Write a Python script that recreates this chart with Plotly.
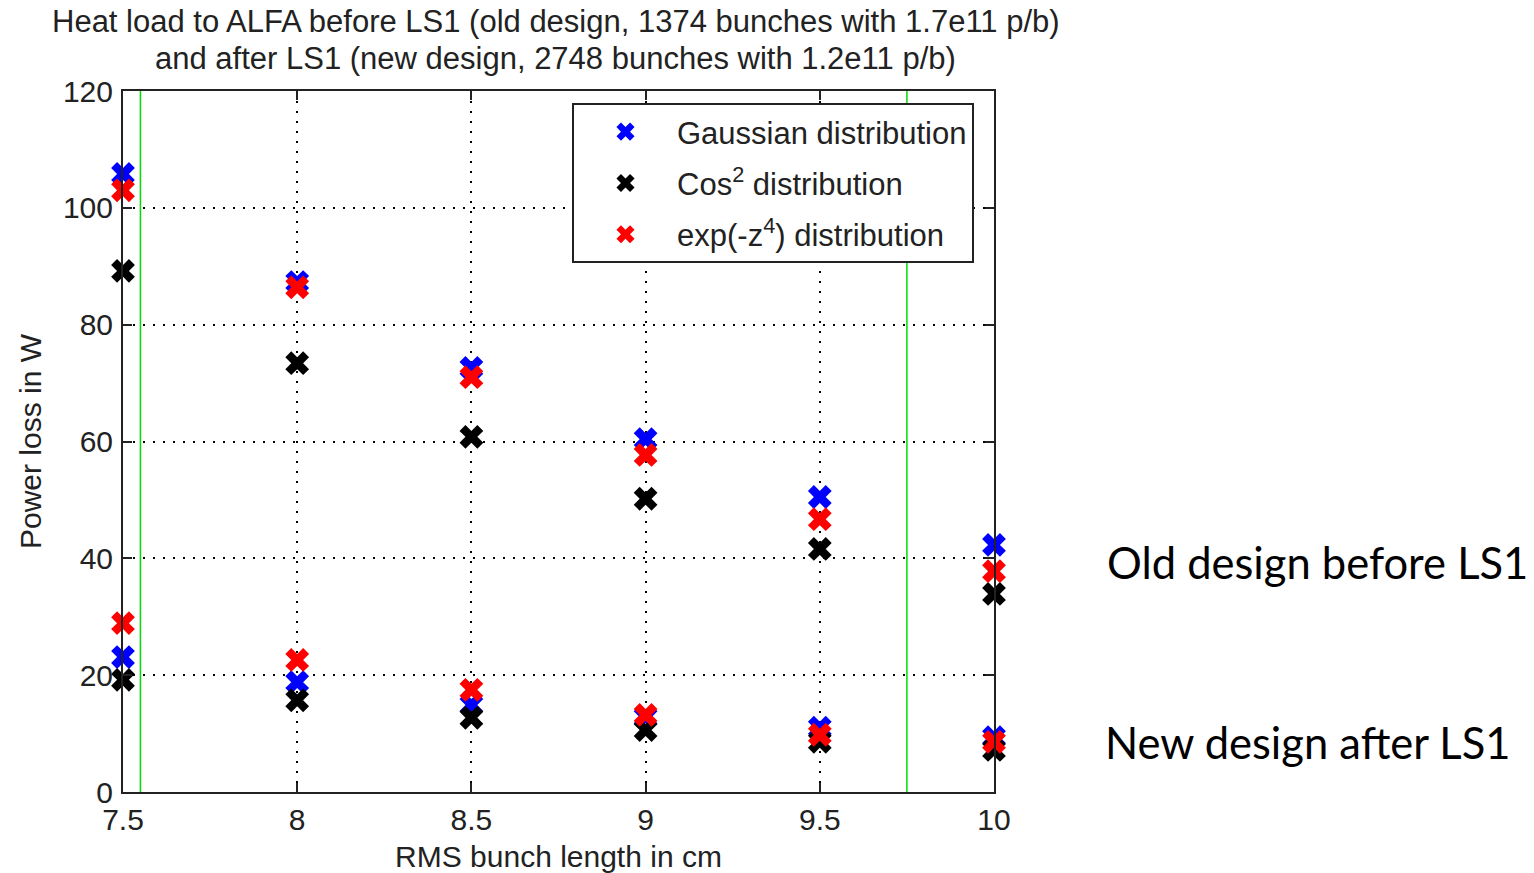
import plotly.graph_objects as go

bunch_length = [7.5, 8.0, 8.5, 9.0, 9.5, 10.0]

gauss_old = [105.8, 87.3, 72.6, 60.4, 50.5, 42.3]
cos2_old = [89.2, 73.4, 60.8, 50.2, 41.6, 33.9]
exp4_old = [103.0, 86.4, 71.0, 57.7, 46.7, 37.8]

gauss_new = [23.1, 18.8, 14.9, 12.8, 11.0, 9.4]
cos2_new = [19.2, 15.7, 12.7, 10.6, 8.6, 7.2]
exp4_new = [28.9, 22.6, 17.5, 13.2, 9.8, 8.6]

green_lines = [7.55, 9.75]

x_ticks = [7.5, 8, 8.5, 9, 9.5, 10]
x_tick_labels = ["7.5", "8", "8.5", "9", "9.5", "10"]
y_ticks = [0, 20, 40, 60, 80, 100, 120]

title_lines = [
    "Heat load to ALFA before LS1 (old design, 1374 bunches with 1.7e11 p/b)",
    "and after LS1 (new design, 2748 bunches with 1.2e11 p/b)",
]

series = [
    ("Gaussian distribution", gauss_old, gauss_new, "#0000ff"),
    ("Cos<sup>2</sup> distribution", cos2_old, cos2_new, "#000000"),
    ("exp(-z<sup>4</sup>) distribution", exp4_old, exp4_new, "#ff0000"),
]

# plot area in pixels
L, R, T, B = 123, 994, 91, 792
W, H = 1534, 873


def px_x(p):
    return (p - L) / (R - L)


def px_y(p):
    return (B - p) / (B - T)


fig = go.Figure()
for i, (name, old, new, color) in enumerate(series):
    fig.add_trace(go.Scatter(
        x=bunch_length + bunch_length,
        y=old + new,
        mode="markers",
        name=name,
        legendgroup="g%d" % i,
        marker=dict(symbol="x", size=21, color=color, line=dict(width=0)),
        cliponaxis=False,
    ))

for gx in green_lines:
    fig.add_shape(type="line", xref="x", yref="paper", x0=gx, x1=gx, y0=0, y1=1,
                  line=dict(color="#00dd00", width=1.5), layer="below")

FONT = "Liberation Sans, Arial, sans-serif"
axis_font = dict(family=FONT, size=30, color="#222222")
grid_dash = "2px,8px"

fig.update_layout(
    width=W, height=H,
    margin=dict(l=L, r=W - R, t=T, b=H - B, autoexpand=False),
    paper_bgcolor="white", plot_bgcolor="white",
    font=dict(family=FONT, color="#222222"),
    xaxis=dict(
        range=[7.5, 10], tickvals=x_ticks, ticktext=x_tick_labels,
        showgrid=True, gridcolor="black", griddash=grid_dash, gridwidth=1.5,
        showline=True, linecolor="#222222", linewidth=2, mirror="ticks",
        ticks="inside", ticklen=9, tickcolor="#222222", tickwidth=2,
        tickfont=axis_font, zeroline=False, automargin=False,
        title=dict(text="RMS bunch length in cm", font=axis_font, standoff=14),
    ),
    yaxis=dict(
        range=[0, 120], tickvals=y_ticks,
        showgrid=True, gridcolor="black", griddash=grid_dash, gridwidth=1.5,
        showline=True, linecolor="#222222", linewidth=2, mirror="ticks",
        ticks="inside", ticklen=9, tickcolor="#222222", tickwidth=2,
        tickfont=axis_font, zeroline=False, ticklabelstandoff=2, automargin=False,
        title=dict(text="Power loss in W", font=axis_font, standoff=12),
    ),
    legend=dict(
        x=px_x(572), y=px_y(103),
        xanchor="left", yanchor="top",
        bgcolor="white", bordercolor="#222222", borderwidth=2,
        font=dict(family=FONT, size=31, color="#222222"),
        itemwidth=93, tracegroupgap=8, itemsizing="trace",
    ),
    showlegend=True,
)

for text, py in zip(title_lines, [22, 58]):
    fig.add_annotation(text=text, xref="paper", yref="paper",
                       x=px_x((L + R) / 2 - 3), y=px_y(py), xanchor="center", yanchor="middle",
                       showarrow=False, font=dict(family=FONT, size=31, color="#222222"))

fig.add_annotation(text="Old design before LS1", xref="paper", yref="paper",
                   x=px_x(1105), y=px_y(562), xanchor="left", yanchor="middle",
                   showarrow=False, font=dict(family="Lato, Open Sans, sans-serif", size=43.5, color="black"))
fig.add_annotation(text="New design after LS1", xref="paper", yref="paper",
                   x=px_x(1103), y=px_y(742), xanchor="left", yanchor="middle",
                   showarrow=False, font=dict(family="Lato, Open Sans, sans-serif", size=43.5, color="black"))

fig.write_html("out.html")
